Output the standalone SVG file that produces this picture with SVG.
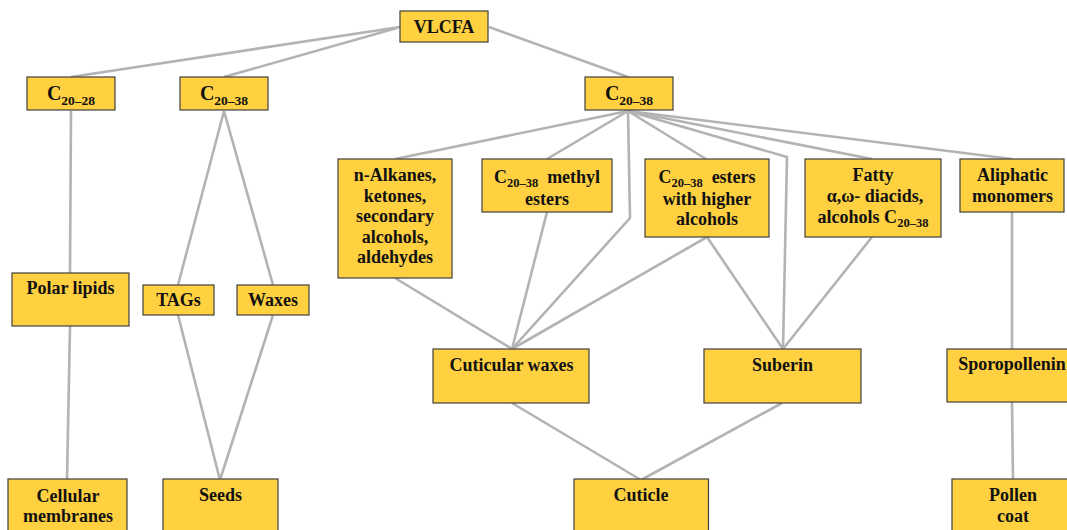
<svg xmlns="http://www.w3.org/2000/svg" width="1067" height="530" viewBox="0 0 1067 530">
<style>
.box{fill:#FFD040;stroke:#404040;stroke-width:1.2}
.t{font-family:"Liberation Serif","Times New Roman",serif;font-weight:bold;font-size:18px;fill:#111;text-anchor:middle}
.c{font-size:20px}
.s{font-size:13.5px}
.s2{font-size:12.5px}
#connectors line,#connectors polyline{stroke:#B3B3B3;stroke-width:2.6;fill:none}
</style>
<rect width="1067" height="530" fill="#fff"/>
<g id="connectors">
<line x1="400" y1="27" x2="71" y2="77"/>
<line x1="397" y1="28" x2="224" y2="77"/>
<line x1="489" y1="27" x2="628" y2="77"/>
<line x1="71" y1="111" x2="70" y2="273"/>
<line x1="70" y1="326" x2="67" y2="480"/>
<line x1="224" y1="111" x2="178" y2="285"/>
<line x1="224" y1="111" x2="273" y2="285"/>
<line x1="178" y1="315" x2="220" y2="480"/>
<line x1="273" y1="315" x2="220" y2="480"/>
<line x1="628" y1="111" x2="395" y2="159"/>
<line x1="628" y1="111" x2="547" y2="159"/>
<polyline points="628,111 630,218 512,349"/>
<line x1="628" y1="111" x2="706" y2="159"/>
<polyline points="628,111 787,157 783,349"/>
<line x1="628" y1="111" x2="872" y2="159"/>
<line x1="628" y1="111" x2="1012" y2="159"/>
<line x1="395" y1="278" x2="512" y2="349"/>
<line x1="547" y1="212" x2="512" y2="349"/>
<line x1="707" y1="237" x2="512" y2="349"/>
<line x1="707" y1="237" x2="783" y2="349"/>
<line x1="872" y1="237" x2="783" y2="349"/>
<line x1="1012" y1="212" x2="1012" y2="349"/>
<line x1="1012" y1="402" x2="1013" y2="480"/>
<line x1="512" y1="403" x2="641" y2="480"/>
<line x1="782" y1="403" x2="641" y2="480"/>
</g>
<g id="vlcfa"><rect class="box" x="400" y="11" width="88" height="31"/><text class="t" x="444" y="32.5">VLCFA</text></g>
<g id="c2028"><rect class="box" x="27" y="77" width="88" height="33"/><text class="t" x="71" y="100"><tspan class="c">C</tspan><tspan class="s" dy="5">20–28</tspan></text></g>
<g id="c2038a"><rect class="box" x="180" y="77" width="88" height="33"/><text class="t" x="224" y="100"><tspan class="c">C</tspan><tspan class="s" dy="5">20–38</tspan></text></g>
<g id="c2038b"><rect class="box" x="585" y="77" width="88" height="33"/><text class="t" x="629" y="100"><tspan class="c">C</tspan><tspan class="s" dy="5">20–38</tspan></text></g>
<g id="alkanes"><rect class="box" x="338" y="159" width="114" height="119"/>
<text class="t" x="395" y="181">n-Alkanes,</text>
<text class="t" x="395" y="201.5">ketones,</text>
<text class="t" x="395" y="222">secondary</text>
<text class="t" x="395" y="242.5">alcohols,</text>
<text class="t" x="395" y="263">aldehydes</text></g>
<g id="methyl"><rect class="box" x="482" y="159" width="130" height="53"/>
<text class="t" x="547" y="183">C<tspan class="s2" dy="4">20–38</tspan><tspan dy="-4" dx="9">methyl</tspan></text>
<text class="t" x="547" y="204.5">esters</text></g>
<g id="esters"><rect class="box" x="645" y="159" width="124" height="78"/>
<text class="t" x="707" y="183">C<tspan class="s2" dy="4">20–38</tspan><tspan dy="-4" dx="9">esters</tspan></text>
<text class="t" x="707" y="204.5">with higher</text>
<text class="t" x="707" y="224.5">alcohols</text></g>
<g id="fatty"><rect class="box" x="805" y="159" width="136" height="78"/>
<text class="t" x="873" y="181">Fatty</text>
<text class="t" x="875" y="202">α,ω- diacids,</text>
<text class="t" x="873" y="223">alcohols C<tspan class="s2" dy="4">20–38</tspan></text></g>
<g id="aliphatic"><rect class="box" x="960" y="159" width="104" height="53"/>
<text class="t" x="1012.5" y="180.5">Aliphatic</text>
<text class="t" x="1012.5" y="201.5">monomers</text></g>
<g id="polar"><rect class="box" x="12" y="273" width="117" height="53"/><text class="t" x="70.5" y="294">Polar lipids</text></g>
<g id="tags"><rect class="box" x="143" y="285" width="71" height="30"/><text class="t" x="178.5" y="306">TAGs</text></g>
<g id="waxes"><rect class="box" x="237" y="285" width="72" height="30"/><text class="t" x="273" y="306">Waxes</text></g>
<g id="cutwaxes"><rect class="box" x="433" y="349" width="156" height="54"/><text class="t" x="511.5" y="371">Cuticular waxes</text></g>
<g id="suberin"><rect class="box" x="704" y="349" width="157" height="54"/><text class="t" x="782.5" y="371">Suberin</text></g>
<g id="sporo"><rect class="box" x="947" y="349" width="125" height="53"/><text class="t" x="1012" y="370">Sporopollenin</text></g>
<g id="cellular"><rect class="box" x="8" y="479" width="119" height="56"/>
<text class="t" x="68" y="502">Cellular</text><text class="t" x="68" y="522">membranes</text></g>
<g id="seeds"><rect class="box" x="163" y="479" width="115" height="56"/><text class="t" x="220.5" y="501">Seeds</text></g>
<g id="cuticle"><rect class="box" x="574" y="479" width="134.5" height="56"/><text class="t" x="641" y="501">Cuticle</text></g>
<g id="pollen"><rect class="box" x="952" y="479" width="120" height="56"/>
<text class="t" x="1013" y="501">Pollen</text><text class="t" x="1013" y="522">coat</text></g>
</svg>
